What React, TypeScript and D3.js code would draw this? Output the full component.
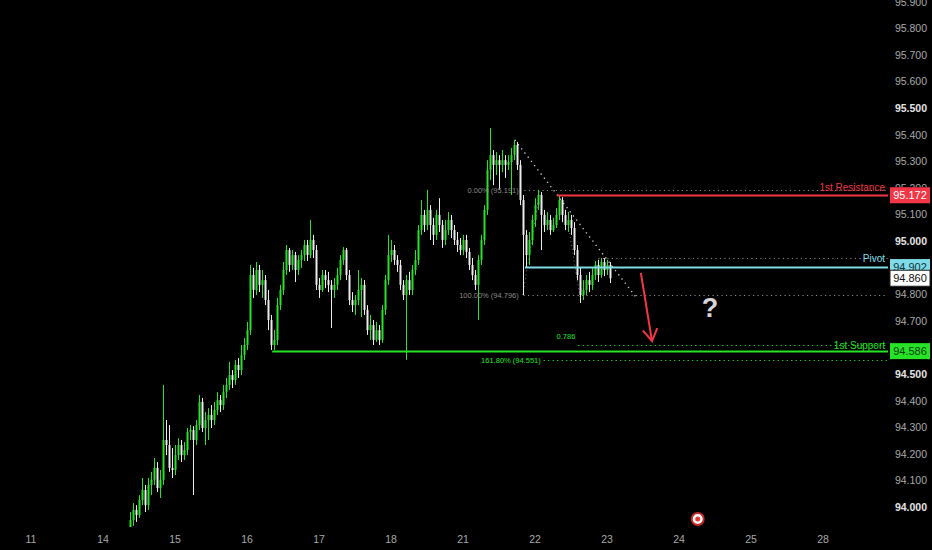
import * as React from 'react';
import * as d3 from 'd3';

// trading days on the time axis (weekends removed)
const dayLabels = ['11', '14', '15', '16', '17', '18', '21', '22', '23', '24', '25', '28'];
const priceTicks = [94.0, 94.1, 94.2, 94.3, 94.4, 94.5, 94.6, 94.7, 94.8, 94.9,
  95.0, 95.1, 95.2, 95.3, 95.4, 95.5, 95.6, 95.7, 95.8, 95.9];

// hourly candles [open, high, low, close], first one on the 14th at 09:00
const firstCandleDay = 1.375;
const candles: [number, number, number, number][] = [
  [93.921, 93.981, 93.895, 93.951], [93.951, 94.015, 93.929, 93.989], [93.989, 94.007, 93.944, 93.970],
  [93.970, 94.045, 93.959, 94.026], [94.026, 94.109, 94.007, 94.064], [94.064, 94.083, 93.981, 94.007],
  [94.007, 94.109, 93.989, 94.083], [94.083, 94.132, 94.045, 94.102], [94.102, 94.184, 94.083, 94.147],
  [94.147, 94.169, 94.056, 94.071], [94.071, 94.139, 94.034, 94.102], [94.102, 94.459, 94.083, 94.252],
  [94.252, 94.327, 94.195, 94.233], [94.233, 94.308, 94.132, 94.147], [94.147, 94.222, 94.109, 94.139],
  [94.139, 94.233, 94.120, 94.195], [94.195, 94.259, 94.177, 94.233], [94.233, 94.252, 94.169, 94.195],
  [94.195, 94.244, 94.177, 94.214], [94.214, 94.297, 94.195, 94.282], [94.282, 94.308, 94.252, 94.289],
  [94.289, 94.304, 94.045, 94.252], [94.252, 94.327, 94.233, 94.308], [94.308, 94.421, 94.289, 94.395],
  [94.395, 94.410, 94.282, 94.297], [94.297, 94.357, 94.233, 94.327], [94.327, 94.372, 94.252, 94.346],
  [94.346, 94.383, 94.297, 94.327], [94.327, 94.395, 94.308, 94.365], [94.365, 94.432, 94.346, 94.402],
  [94.402, 94.421, 94.357, 94.383], [94.383, 94.459, 94.365, 94.432], [94.432, 94.485, 94.410, 94.459],
  [94.459, 94.545, 94.440, 94.496], [94.496, 94.515, 94.447, 94.477], [94.477, 94.553, 94.459, 94.534],
  [94.534, 94.560, 94.485, 94.515], [94.515, 94.609, 94.496, 94.571], [94.571, 94.635, 94.553, 94.609],
  [94.609, 94.696, 94.590, 94.665], [94.665, 94.910, 94.647, 94.872], [94.872, 94.899, 94.786, 94.816],
  [94.816, 94.921, 94.797, 94.891], [94.891, 94.910, 94.808, 94.835], [94.835, 94.891, 94.786, 94.853],
  [94.853, 94.872, 94.759, 94.778], [94.778, 94.816, 94.665, 94.703], [94.703, 94.722, 94.590, 94.609],
  [94.609, 94.665, 94.590, 94.628], [94.628, 94.786, 94.609, 94.759], [94.759, 94.835, 94.741, 94.816],
  [94.816, 94.921, 94.797, 94.891], [94.891, 94.985, 94.872, 94.966], [94.966, 94.974, 94.884, 94.910],
  [94.910, 94.966, 94.891, 94.947], [94.947, 94.959, 94.846, 94.891], [94.891, 94.947, 94.872, 94.929],
  [94.929, 94.966, 94.899, 94.947], [94.947, 95.004, 94.925, 94.985], [94.985, 95.004, 94.925, 94.947],
  [94.947, 95.079, 94.936, 95.004], [95.004, 95.023, 94.936, 94.966], [94.966, 94.985, 94.816, 94.835],
  [94.835, 94.861, 94.786, 94.816], [94.816, 94.891, 94.808, 94.872], [94.872, 94.891, 94.823, 94.853],
  [94.853, 94.884, 94.808, 94.835], [94.835, 94.853, 94.673, 94.816], [94.816, 94.861, 94.786, 94.835],
  [94.835, 94.899, 94.816, 94.872], [94.872, 94.947, 94.853, 94.929], [94.929, 94.977, 94.910, 94.966],
  [94.966, 94.974, 94.853, 94.872], [94.872, 94.891, 94.759, 94.778], [94.778, 94.808, 94.733, 94.759],
  [94.759, 94.797, 94.722, 94.778], [94.778, 94.891, 94.759, 94.816], [94.816, 94.861, 94.714, 94.835],
  [94.835, 94.853, 94.722, 94.741], [94.741, 94.759, 94.647, 94.665], [94.665, 94.722, 94.628, 94.684],
  [94.684, 94.703, 94.609, 94.628], [94.628, 94.696, 94.620, 94.665], [94.665, 94.684, 94.609, 94.628],
  [94.628, 94.759, 94.617, 94.741], [94.741, 94.872, 94.722, 94.853], [94.853, 95.023, 94.835, 94.947],
  [94.947, 95.004, 94.921, 94.966], [94.966, 94.985, 94.910, 94.929], [94.929, 94.947, 94.884, 94.910],
  [94.910, 94.929, 94.816, 94.835], [94.835, 94.853, 94.778, 94.797], [94.797, 94.872, 94.553, 94.853],
  [94.853, 94.884, 94.797, 94.816], [94.816, 94.910, 94.797, 94.891], [94.891, 94.966, 94.872, 94.929],
  [94.929, 95.060, 94.910, 95.041], [95.041, 95.154, 95.023, 95.098], [95.098, 95.117, 95.034, 95.060],
  [95.060, 95.192, 95.041, 95.117], [95.117, 95.135, 95.004, 95.060], [95.060, 95.087, 94.985, 95.023],
  [95.023, 95.117, 95.004, 95.098], [95.098, 95.161, 95.034, 95.060], [95.060, 95.079, 94.974, 95.004],
  [95.004, 95.079, 94.985, 95.041], [95.041, 95.109, 95.023, 95.079], [95.079, 95.098, 95.011, 95.041],
  [95.041, 95.060, 94.985, 95.004], [95.004, 95.034, 94.959, 94.985], [94.985, 95.011, 94.947, 94.966],
  [94.966, 95.023, 94.947, 95.004], [95.004, 95.023, 94.936, 94.959], [94.959, 94.974, 94.891, 94.910],
  [94.910, 94.936, 94.853, 94.872], [94.872, 94.891, 94.816, 94.835], [94.835, 94.947, 94.703, 94.929],
  [94.929, 95.023, 94.910, 95.004], [95.004, 95.135, 94.985, 95.117], [95.117, 95.304, 95.098, 95.267],
  [95.267, 95.425, 95.229, 95.323], [95.323, 95.342, 95.210, 95.286], [95.286, 95.334, 95.248, 95.304],
  [95.304, 95.323, 95.192, 95.286], [95.286, 95.342, 95.259, 95.304], [95.304, 95.323, 95.237, 95.286],
  [95.286, 95.323, 95.267, 95.297], [95.297, 95.350, 95.173, 95.323], [95.323, 95.380, 95.304, 95.361],
  [95.361, 95.372, 95.267, 95.286], [95.286, 95.304, 95.135, 95.154], [95.154, 95.173, 94.797, 95.023],
  [95.023, 95.041, 94.899, 94.947], [94.947, 95.034, 94.910, 95.004], [95.004, 95.098, 94.985, 95.079],
  [95.079, 95.161, 95.053, 95.135], [95.135, 95.192, 95.117, 95.173], [95.173, 95.184, 94.966, 95.098],
  [95.098, 95.117, 95.034, 95.060], [95.060, 95.109, 95.041, 95.079], [95.079, 95.098, 95.023, 95.041],
  [95.041, 95.087, 95.034, 95.060], [95.060, 95.124, 95.049, 95.098], [95.098, 95.169, 95.079, 95.154],
  [95.154, 95.165, 95.071, 95.098], [95.098, 95.117, 95.041, 95.060], [95.060, 95.109, 95.034, 95.079],
  [95.079, 95.098, 95.023, 95.049], [95.049, 95.071, 94.947, 94.966], [94.966, 94.985, 94.853, 94.872],
  [94.872, 94.899, 94.767, 94.797], [94.797, 94.853, 94.778, 94.816], [94.816, 94.872, 94.797, 94.853],
  [94.853, 94.884, 94.808, 94.835], [94.835, 94.899, 94.816, 94.872], [94.872, 94.925, 94.853, 94.910],
  [94.910, 94.929, 94.846, 94.872], [94.872, 94.936, 94.861, 94.921], [94.921, 94.936, 94.868, 94.891],
  [94.891, 94.929, 94.872, 94.910], [94.910, 94.921, 94.842, 94.860],
];

// levels
const resistance = 95.172;
const pivot = 94.902;
const support = 94.586;
const lastPrice = 94.860;
const fibZero = 95.191;
const fibHundred = 94.796;
const fibExt = 94.551;
const fib786 = 94.609;
const pivotDotted = 94.936;
const boxLevels = [resistance, pivot, lastPrice, support];

const W = 932;
const H = 550;
const plotRight = 888;
const plotBottom = 527;

const GREEN = '#26e326';
const WHITE = '#ececec';
const RED = '#f23645';
const CYAN = '#7fdbe8';

export default function App() {
  const x = d3.scaleLinear().domain([0, dayLabels.length - 1]).range([31, 31 + 72 * (dayLabels.length - 1)]);
  const y = d3.scaleLinear().domain([94.0, 95.9]).range([507, 1.6]);
  const tOf = (i: number) => firstCandleDay + i / 24;
  const font = '"Liberation Sans", Arial, sans-serif';

  const endX = plotRight;
  const hline = (t0: number, p: number, stroke: string, dash?: string, sw = 1) => (
    <line x1={x(t0)} x2={endX} y1={Math.round(y(p)) + 0.5} y2={Math.round(y(p)) + 0.5}
      stroke={stroke} strokeWidth={sw} strokeDasharray={dash} />
  );

  // arrow
  const a0 = [x(8.47), y(94.88)];
  const a1 = [x(8.625), y(94.624)];
  const ang = Math.atan2(a1[1] - a0[1], a1[0] - a0[0]);
  const headLen = 14;
  const h1 = [a1[0] - headLen * Math.cos(ang - 0.55), a1[1] - headLen * Math.sin(ang - 0.55)];
  const h2 = [a1[0] - headLen * Math.cos(ang + 0.55), a1[1] - headLen * Math.sin(ang + 0.55)];

  const box = (p: number, label: string, fill: string, textFill: string, border?: string) => {
    const cy = y(p);
    return (
      <g>
        <rect x={890} y={cy - 8} width={40} height={16} fill={fill} stroke={border} strokeWidth={border ? 1 : 0} />
        <text x={910} y={cy + 4} textAnchor="middle" fontSize={11} fill={textFill} fontFamily={font}>{label}</text>
      </g>
    );
  };

  // tick labels fully covered by a price box are not drawn; partly covered ones are clipped above the box
  const visibleTicks = priceTicks.filter((p) => boxLevels.every((b) => Math.abs(y(p) - y(b)) > 4));

  return (
    <svg width={W} height={H} style={{ position: 'fixed', left: 0, top: 0, background: '#000' }}>
      <rect width={W} height={H} fill="#000" />
      <defs>
        <clipPath id="plot"><rect x={0} y={0} width={plotRight} height={plotBottom} /></clipPath>
        <clipPath id="scale">
          <rect x={plotRight} y={0} width={W - plotRight} height={y(resistance) - 8} />
          <rect x={plotRight} y={y(resistance) + 8} width={W - plotRight} height={H} />
        </clipPath>
      </defs>

      {/* right price scale */}
      <g clipPath="url(#scale)">
        {visibleTicks.map((p) => {
          const major = Math.round(p * 10) % 5 === 0;
          return (
            <text key={p} x={911} y={y(p) + 4} textAnchor="middle" fontSize={10.5} fontFamily={font}
              fill={major ? '#e4e4e4' : '#a9a9a9'} fontWeight={major ? 700 : 400}>{p.toFixed(3)}</text>
          );
        })}
      </g>

      {/* time axis */}
      {dayLabels.map((d, i) => (
        <text key={d} x={x(i)} y={543} textAnchor="middle" fontSize={10.5} fill="#a9a9a9" fontFamily={font}>{d}</text>
      ))}

      <g clipPath="url(#plot)">
        {/* dotted fib / trend lines */}
        {hline(6.79, fibZero, '#8a8a8a', '1.2,3.3')}
        {hline(6.84, fibHundred, '#8a8a8a', '1.2,3.3')}
        {hline(7.88, pivotDotted, '#8a8a8a', '1.2,3.3')}
        {hline(7.6, fib786, GREEN, '1.2,3.3')}
        {hline(7.12, fibExt, GREEN, '1.2,3.3')}
        <line x1={x(6.72)} y1={y(95.38)} x2={x(8.4)} y2={y(94.79)} stroke="#d0d0d0" strokeWidth={1.3} strokeDasharray="1.3,4" />
        <line x1={x(6.83)} y1={y(94.797)} x2={x(7.07)} y2={y(95.192)} stroke="#777" strokeWidth={1} strokeDasharray="1,3" />
        <line x1={x(7.48)} y1={y(95.03)} x2={x(7.63)} y2={y(94.78)} stroke="#777" strokeWidth={1} strokeDasharray="1,3" />

        {/* candles */}
        {candles.map(([o, hi, lo, c], i) => {
          const cx = Math.round(x(tOf(i)));
          const col = c >= o ? GREEN : WHITE;
          const top = y(Math.max(o, c));
          const bot = y(Math.min(o, c));
          return (
            <g key={i}>
              <rect x={cx} y={y(hi)} width={1} height={y(lo) - y(hi)} fill={col} />
              <rect x={cx - 0.5} y={top} width={2} height={Math.max(1, bot - top)} fill={col} />
            </g>
          );
        })}

        {/* solid levels */}
        {hline(7.306, resistance, RED, undefined, 2)}
        {hline(6.86, pivot, CYAN, undefined, 2)}
        {hline(3.35, support, GREEN, undefined, 2)}

        {/* fib texts */}
        <text x={x(6.775)} y={y(fibZero) + 3} textAnchor="end" fontSize={7.5} fill="#8a8a8a" fontFamily={font}>0.00% (95.191)</text>
        <text x={x(6.775)} y={y(fibHundred) + 3} textAnchor="end" fontSize={7.5} fill="#8a8a8a" fontFamily={font}>100.00% (94.796)</text>
        <text x={x(7.08)} y={y(fibExt) + 3} textAnchor="end" fontSize={7.5} fill={GREEN} fontFamily={font}>161.80% (94.551)</text>
        <text x={x(7.3)} y={y(fib786) - 6} fontSize={7.5} fill={GREEN} fontFamily={font}>0.786</text>

        {/* level names */}
        <text x={885} y={y(fibZero) + 1} textAnchor="end" fontSize={10} fill={RED} fontFamily={font}>1st Resistance</text>
        <text x={885} y={y(pivotDotted) + 4} textAnchor="end" fontSize={10} fill={CYAN} fontFamily={font}>Pivot</text>
        <text x={885} y={y(fib786) + 4} textAnchor="end" fontSize={10} fill={GREEN} fontFamily={font}>1st Support</text>

        {/* projected move */}
        <line x1={a0[0]} y1={a0[1]} x2={a1[0]} y2={a1[1]} stroke={RED} strokeWidth={2} />
        <polyline points={`${h1[0]},${h1[1]} ${a1[0]},${a1[1]} ${h2[0]},${h2[1]}`} fill="none" stroke={RED} strokeWidth={2} />
        <text x={x(9.43)} y={y(94.756) + 11} textAnchor="middle" fontSize={27} fontWeight={700} fill="#d6d6d6" fontFamily={font}>?</text>
      </g>

      {/* event marker */}
      <circle cx={x(9.26)} cy={519} r={6} fill="#fff" stroke="#c62828" strokeWidth={2} />
      <circle cx={x(9.26)} cy={519} r={2.5} fill="#e53935" />

      {/* price boxes */}
      {box(resistance, '95.172', RED, '#fff')}
      {box(pivot, '94.902', CYAN, '#10343a')}
      {box(lastPrice, '94.860', '#fff', '#111', '#222')}
      {box(support, '94.586', GREEN, '#0b3d0b')}
    </svg>
  );
}
